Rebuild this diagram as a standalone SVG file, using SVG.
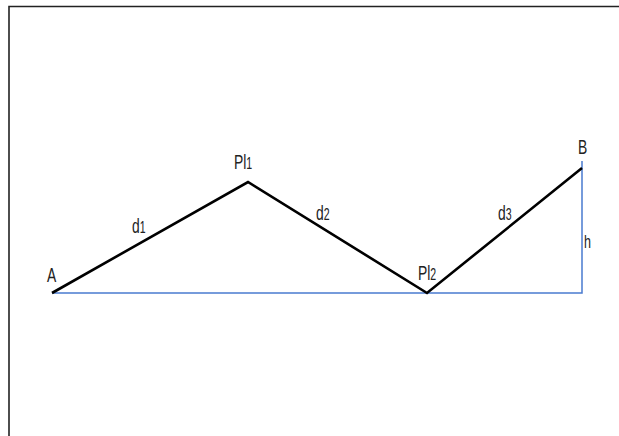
<svg xmlns="http://www.w3.org/2000/svg" width="619" height="436" viewBox="0 0 619 436">
<style>
.lbl{font-family:"Liberation Sans",Arial,sans-serif;font-size:21px;fill:#222}
.sub{font-size:16px}
.path{stroke:#000;stroke-width:2.6;fill:none;stroke-linejoin:miter}
.ref{stroke:#4a7bd0;stroke-width:1.5;fill:none}
</style>
<rect width="619" height="436" fill="#fff"/>
<path d="M9 436 V6.5 H619" fill="none" stroke="#222" stroke-width="1.6"/>
<g id="connectors">
<path class="ref" d="M52 293 H582 V161"/>
<path class="path" d="M52 293 L248 182 L427 293 L582 168"/>
</g>
<g id="A"><text class="lbl" transform="translate(47,282) scale(0.66,1)">A</text></g>
<g id="PI1"><text class="lbl" transform="translate(234,169) scale(0.66,1)">Pl<tspan class="sub">1</tspan></text></g>
<g id="PI2"><text class="lbl" transform="translate(418,280) scale(0.66,1)">Pl<tspan class="sub">2</tspan></text></g>
<g id="B"><text class="lbl" transform="translate(578,154) scale(0.66,1)">B</text></g>
<g id="d1"><text class="lbl" transform="translate(132,233) scale(0.66,1)">d<tspan class="sub">1</tspan></text></g>
<g id="d2"><text class="lbl" transform="translate(316,220) scale(0.66,1)">d<tspan class="sub">2</tspan></text></g>
<g id="d3"><text class="lbl" transform="translate(498,220) scale(0.66,1)">d<tspan class="sub">3</tspan></text></g>
<g id="h"><text class="lbl" transform="translate(584,248) scale(0.66,1)" style="font-size:19px">h</text></g>
</svg>
